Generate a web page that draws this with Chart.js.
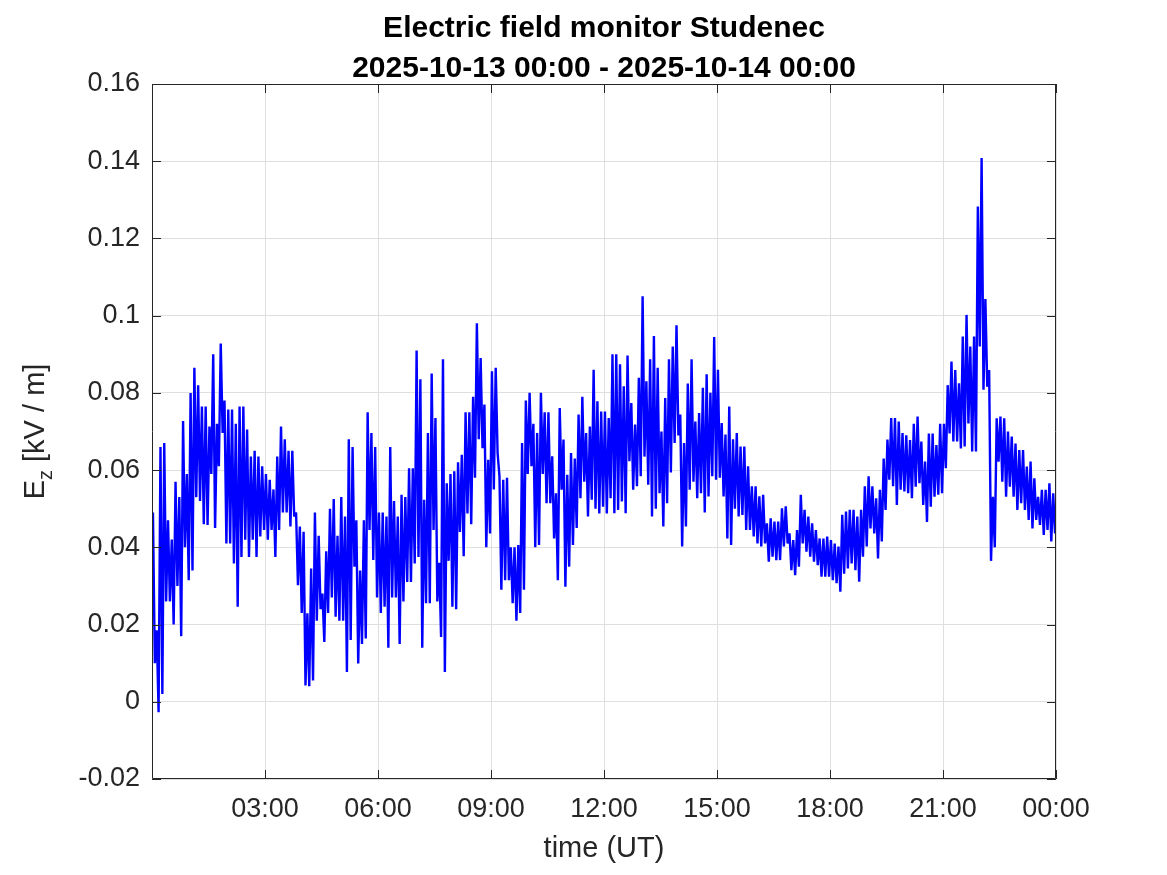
<!DOCTYPE html>
<html>
<head>
<meta charset="utf-8">
<title>Electric field monitor Studenec</title>
<script src="https://cdn.jsdelivr.net/npm/chart.js@4.4.1/dist/chart.umd.min.js"></script>
<style>
  html, body { margin: 0; padding: 0; background: #ffffff; }
</style>
</head>
<body>
<canvas id="graphique" width="1167" height="875"></canvas>
<script>
// Chart texts
var titleLines = ["Electric field monitor Studenec", "2025-10-13 00:00 - 2025-10-14 00:00"];
var xTitle = "time (UT)";
var yTitleMain = "E";
var yTitleSub = "z";
var yTitleRest = " [kV / m]";

// Axis ticks
var xTicks = [3, 6, 9, 12, 15, 18, 21, 24];
var xTickLabels = ["03:00", "06:00", "09:00", "12:00", "15:00", "18:00", "21:00", "00:00"];
var yTicks = [-0.02, 0, 0.02, 0.04, 0.06, 0.08, 0.1, 0.12, 0.14, 0.16];
var yTickLabels = ["-0.02", "0", "0.02", "0.04", "0.06", "0.08", "0.1", "0.12", "0.14", "0.16"];

// The record is dense, so it is read off the picture as 6-minute bins (0.1 h),
// each with the highest and lowest Ez value (kV/m) seen in it. One line per hour.
var binHours = 0.1;

var fieldHigh = [
  0.049, 0.0185, 0.066, 0.067, 0.047, 0.042, 0.057, 0.053, 0.0727, 0.059,
  0.080, 0.0865, 0.082, 0.0765, 0.0765, 0.0713, 0.090, 0.072, 0.0928, 0.078,
  0.0757, 0.0757, 0.072, 0.0765, 0.0765, 0.0705, 0.0635, 0.065, 0.0635, 0.061,
  0.059, 0.0575, 0.055, 0.0635, 0.0713, 0.068, 0.065, 0.065, 0.049, 0.0454,
  0.044, 0.0229, 0.0345, 0.049, 0.043, 0.028, 0.039, 0.050, 0.0525, 0.043,
  0.053, 0.048, 0.068, 0.066, 0.047, 0.034, 0.047, 0.075, 0.0696, 0.066,
  0.049, 0.049, 0.048, 0.066, 0.052, 0.048, 0.0536, 0.053, 0.0605, 0.0605,
  0.091, 0.0835, 0.0523, 0.0696, 0.085, 0.0735, 0.036, 0.0887, 0.0566, 0.059,
  0.0597, 0.062, 0.064, 0.075, 0.075, 0.079, 0.098, 0.089, 0.077, 0.0627,
  0.0856, 0.0865, 0.0584, 0.0575, 0.058, 0.040, 0.040, 0.0406, 0.067, 0.078,
  0.080, 0.072, 0.0696, 0.080, 0.075, 0.075, 0.0636, 0.054, 0.0761, 0.0679,
  0.0588, 0.0644, 0.063, 0.0744, 0.079, 0.0696, 0.0713, 0.086, 0.0778, 0.0752,
  0.0752, 0.0735, 0.090, 0.090, 0.0874, 0.0817, 0.0897, 0.0774, 0.0718, 0.0839,
  0.105, 0.083, 0.0887, 0.0947, 0.0865, 0.070, 0.0787, 0.0887, 0.092, 0.0975,
  0.0744, 0.067, 0.0824, 0.0887, 0.0726, 0.0748, 0.0813, 0.0848, 0.080, 0.0945,
  0.086, 0.0722, 0.0692, 0.0765, 0.068, 0.0696, 0.0661, 0.0661, 0.061, 0.0558,
  0.0558, 0.0532, 0.0536, 0.0462, 0.0475, 0.0467, 0.0467, 0.0501, 0.0506, 0.0436,
  0.0419, 0.0445, 0.0536, 0.0497, 0.048, 0.0462, 0.0445, 0.0423, 0.0423, 0.0428,
  0.0419, 0.041, 0.0402, 0.0484, 0.0493, 0.0497, 0.0497, 0.048, 0.0497, 0.0558,
  0.0584, 0.0558, 0.0527, 0.0549, 0.063, 0.0679, 0.0735, 0.0735, 0.0726, 0.0696,
  0.069, 0.0678, 0.072, 0.0739, 0.0674, 0.0622, 0.0695, 0.0695, 0.0665, 0.072,
  0.072, 0.082, 0.0881, 0.0859, 0.0825, 0.0946, 0.1002, 0.092, 0.0946, 0.1283,
  0.1408, 0.1043, 0.0859, 0.0531, 0.0734, 0.0739, 0.0734, 0.070, 0.0687, 0.0669,
  0.0652, 0.0652, 0.0609, 0.0622, 0.0579, 0.0531, 0.0549, 0.0549, 0.0566, 0.054
];

var fieldLow = [
  0.010, -0.0027, 0.002, 0.026, 0.026, 0.020, 0.030, 0.017, 0.040, 0.0315,
  0.034, 0.053, 0.052, 0.046, 0.0458, 0.059, 0.045, 0.061, 0.0696, 0.041,
  0.041, 0.0358, 0.0246, 0.0375, 0.042, 0.0375, 0.042, 0.0375, 0.0428, 0.0445,
  0.042, 0.0445, 0.0375, 0.0445, 0.049, 0.049, 0.0454, 0.048, 0.0302, 0.023,
  0.0042, 0.004, 0.0055, 0.021, 0.024, 0.0155, 0.023, 0.027, 0.022, 0.021,
  0.021, 0.0077, 0.016, 0.035, 0.0099, 0.015, 0.0164, 0.0445, 0.0367, 0.027,
  0.023, 0.0246, 0.014, 0.027, 0.027, 0.015, 0.026, 0.031, 0.031, 0.0358,
  0.0375, 0.014, 0.0255, 0.0255, 0.0445, 0.026, 0.0168, 0.0077, 0.0365, 0.0246,
  0.024, 0.044, 0.0377, 0.0488, 0.046, 0.058, 0.068, 0.0657, 0.040, 0.0436,
  0.055, 0.0644, 0.029, 0.0315, 0.0315, 0.0255, 0.021, 0.023, 0.029, 0.059,
  0.061, 0.040, 0.0406, 0.059, 0.0514, 0.0514, 0.0423, 0.0315, 0.0549, 0.0298,
  0.035, 0.0406, 0.045, 0.0527, 0.057, 0.048, 0.0523, 0.050, 0.0488, 0.0505,
  0.0488, 0.0527, 0.0488, 0.0497, 0.0519, 0.0488, 0.0623, 0.0549, 0.0558, 0.0584,
  0.0635, 0.0562, 0.048, 0.050, 0.054, 0.0454, 0.0514, 0.0594, 0.067, 0.069,
  0.0402, 0.0454, 0.0549, 0.057, 0.0527, 0.054, 0.049, 0.0532, 0.0584, 0.0575,
  0.058, 0.0532, 0.0423, 0.0406, 0.050, 0.048, 0.0484, 0.0445, 0.0445, 0.0428,
  0.041, 0.0402, 0.041, 0.0363, 0.0376, 0.0367, 0.0367, 0.0402, 0.041, 0.0341,
  0.0328, 0.035, 0.041, 0.0389, 0.0376, 0.0363, 0.0354, 0.0324, 0.0324, 0.0324,
  0.0315, 0.0307, 0.0285, 0.0332, 0.0345, 0.0358, 0.0341, 0.0311, 0.0376, 0.0402,
  0.0449, 0.0436, 0.0371, 0.0415, 0.0497, 0.0575, 0.0558, 0.051, 0.0549, 0.0545,
  0.054, 0.0527, 0.0557, 0.0566, 0.051, 0.0466, 0.0505, 0.0531, 0.0536, 0.054,
  0.0605, 0.0695, 0.0674, 0.0674, 0.0656, 0.0661, 0.0721, 0.0648, 0.0648, 0.092,
  0.0808, 0.0816, 0.0365, 0.040, 0.0622, 0.057, 0.0531, 0.0557, 0.0531, 0.0497,
  0.0514, 0.0497, 0.0471, 0.0449, 0.0471, 0.0458, 0.0432, 0.0445, 0.0415, 0.0436
];

var axisColor = "#262626";
var gridColor = "#dfdfdf";
var fontFamily = "Arial, 'Liberation Sans', Helvetica, sans-serif";

// Points: in each bin the trace goes up to its high, then down to its low
var points = [];
for (var i = 0; i < fieldHigh.length; i++) {
  var t = i * binHours;
  points.push({ x: t + binHours * 0.25, y: fieldHigh[i] });
  points.push({ x: t + binHours * 0.75, y: fieldLow[i] });
}

// Box, inward ticks and texts, MATLAB style
var decorPlugin = {
  id: "decor",
  afterDraw: function (chart) {
    var c = chart.ctx;
    var a = chart.chartArea;
    var sx = chart.scales.x;
    var sy = chart.scales.y;
    var tick = 9;
    c.save();
    c.strokeStyle = axisColor;
    c.lineWidth = 1;
    c.beginPath();
    c.rect(Math.round(a.left) + 0.5, Math.round(a.top) + 0.5, Math.round(a.right - a.left) - 1, Math.round(a.bottom - a.top) - 1);
    for (var i = 0; i < xTicks.length; i++) {
      var px = Math.round(sx.getPixelForValue(xTicks[i])) + 0.5;
      c.moveTo(px, a.bottom);
      c.lineTo(px, a.bottom - tick);
      c.moveTo(px, a.top);
      c.lineTo(px, a.top + tick);
    }
    for (var j = 0; j < yTicks.length; j++) {
      var py = Math.round(sy.getPixelForValue(yTicks[j])) + 0.5;
      c.moveTo(a.left, py);
      c.lineTo(a.left + tick, py);
      c.moveTo(a.right, py);
      c.lineTo(a.right - tick, py);
    }
    c.stroke();

    var cx = (a.left + a.right) / 2;
    var cy = (a.top + a.bottom) / 2;

    // title
    c.fillStyle = "#000000";
    c.textAlign = "center";
    c.textBaseline = "alphabetic";
    c.font = "bold 30px " + fontFamily;
    c.fillText(titleLines[0], cx, 37);
    c.fillText(titleLines[1], cx, 77);

    // x title
    c.fillStyle = axisColor;
    c.font = "29px " + fontFamily;
    c.fillText(xTitle, cx, 857);

    // y title with subscript
    c.translate(43.5, cy);
    c.rotate(-Math.PI / 2);
    var mainFont = "29px " + fontFamily;
    var subFont = "20px " + fontFamily;
    c.font = mainFont;
    var wE = c.measureText(yTitleMain).width;
    var wRest = c.measureText(yTitleRest).width;
    c.font = subFont;
    var wSub = c.measureText(yTitleSub).width;
    var x0 = -(wE + wSub + wRest) / 2;
    c.textAlign = "left";
    c.font = mainFont;
    c.fillText(yTitleMain, x0, 0);
    c.font = subFont;
    c.fillText(yTitleSub, x0 + wE, 8);
    c.font = mainFont;
    c.fillText(yTitleRest, x0 + wE + wSub, 0);
    c.restore();
  }
};

var ctx = document.getElementById("graphique").getContext("2d");

var chart = new Chart(ctx, {
  type: "line",
  data: {
    datasets: [{
      data: points,
      borderColor: "#0000ff",
      borderWidth: 2.4,
      borderJoinStyle: "bevel",
      pointRadius: 0,
      tension: 0,
      fill: false
    }]
  },
  options: {
    responsive: false,
    animation: false,
    layout: { padding: { top: 84, right: 111, left: 0, bottom: 0 } },
    plugins: {
      legend: { display: false },
      tooltip: { enabled: false },
      title: { display: false }
    },
    scales: {
      x: {
        type: "linear",
        min: 0,
        max: 24,
        afterBuildTicks: function (s) {
          s.ticks = xTicks.map(function (v) { return { value: v }; });
        },
        afterFit: function (s) { s.height = 96; },
        ticks: {
          autoSkip: false,
          maxRotation: 0,
          padding: 14,
          color: axisColor,
          font: { family: fontFamily, size: 27 },
          callback: function (v, idx) { return xTickLabels[idx]; }
        },
        grid: { color: gridColor, lineWidth: 1, drawTicks: false },
        border: { display: false }
      },
      y: {
        type: "linear",
        min: -0.02,
        max: 0.16,
        afterBuildTicks: function (s) {
          s.ticks = yTicks.map(function (v) { return { value: v }; });
        },
        afterFit: function (s) { s.width = 152; },
        ticks: {
          autoSkip: false,
          padding: 12,
          color: axisColor,
          font: { family: fontFamily, size: 27 },
          callback: function (v, idx) { return yTickLabels[idx]; }
        },
        grid: { color: gridColor, lineWidth: 1, drawTicks: false },
        border: { display: false }
      }
    }
  },
  plugins: [decorPlugin]
});
</script>
</body>
</html>
